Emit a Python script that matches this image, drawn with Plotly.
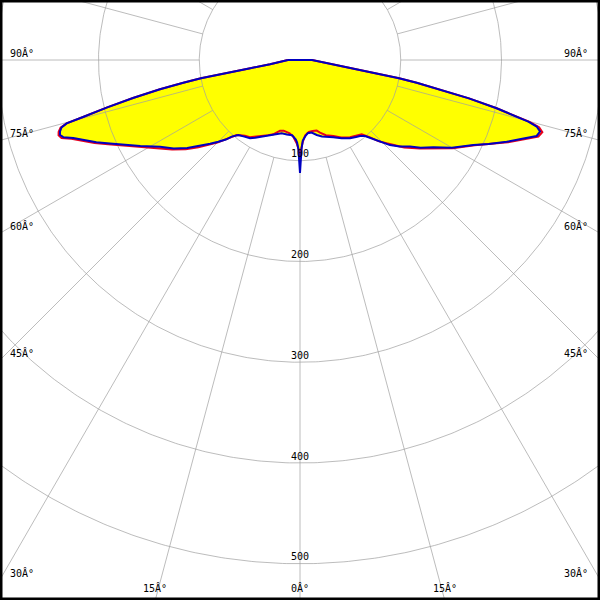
import math
import plotly.graph_objects as go

# ---------------- data (intensity vs angle from nadir, degrees) ----------------
BLUE_LEFT_ANG = [0, 1, 2, 3, 6, 10, 14, 17, 19.6, 24, 27.5, 30, 32.6, 36, 39.4, 41.7, 43, 45, 47, 49.3,
                 52, 55, 58.2, 61.7, 64, 66.3, 68, 69.7, 71, 71.9, 72.7, 73.4, 74.2, 74.8, 75.3, 76.2,
                 77.2, 78.2, 79, 79.6, 80.1, 80.6, 82, 85, 88, 90]
BLUE_LEFT_R = [112, 89, 82, 79, 75, 75, 75, 77, 79, 83, 86, 89, 92.2, 94, 96.4, 101.9, 108, 114.7, 122, 130.9,
               142, 153, 163.4, 180, 192, 206, 218, 229, 238, 247, 249.5, 248.6, 246, 240, 222, 197,
               170, 142, 118, 100, 75, 50, 30, 18, 14, 12]

BLUE_RIGHT_ANG = [0, 1, 2, 3.7, 6, 9.1, 12.6, 16, 20, 23.3, 28, 32.6, 36, 38.3, 40.5, 43.8, 46.6, 49, 51.8, 54,
                  56.8, 60, 63.9, 66, 68.4, 70.5, 72.2, 73.4, 74.3, 74.9, 76.2, 77.2, 78.2, 79, 79.6, 80.1,
                  80.6, 82, 85, 88, 90]
BLUE_RIGHT_R = [112, 88, 80, 76.3, 73, 73, 76.3, 79, 81, 83.5, 88, 92.2, 94.5, 96.1, 99.3, 110, 122.9, 131, 139, 148,
                158.2, 174, 191.6, 205, 220.6, 234, 246.7, 248.6, 244, 234.7, 201, 172, 142, 118, 100, 75,
                50, 30, 18, 14, 12]

RED_LEFT_ANG = [0, 1, 2.3, 5, 8, 10.5, 13, 15.8, 18, 19.8, 23, 27, 30, 32.9, 36, 38.5, 40.2, 42, 45, 49.3,
                52, 55, 58, 61.7, 64, 66.3, 68, 69.7, 71, 71.9, 72.7, 73.4, 74.2, 74.8, 75.3, 76.2,
                77.2, 78.2, 79, 79.6, 80.1, 80.6, 82, 85, 88, 90]
RED_LEFT_R = [97, 88, 82.7, 76.4, 73.5, 72.4, 72, 72.9, 76, 78.4, 81, 85, 88, 91.4, 93, 95.5, 97.4, 103, 116, 133,
              144, 155, 165.5, 182, 194, 208, 220, 231, 240, 249, 251, 250, 247, 240, 222, 197,
              170, 142, 118, 100, 75, 50, 30, 18, 14, 12]

RED_RIGHT_ANG = [0, 1, 2, 4, 7, 10, 13.3, 15.4, 19, 23.7, 28, 32.9, 36, 39.7, 42, 44, 46.1, 50, 53.6, 57,
                 60, 64, 68.4, 70.5, 72.2, 73.4, 74.3, 74.9, 76.2, 77.2, 78.2, 79, 79.6, 80.1, 80.6, 82,
                 85, 88, 90]
RED_RIGHT_R = [97, 87, 81, 75, 72, 71.5, 72, 74.8, 79, 82.4, 87, 91.4, 93.5, 95.9, 103, 112, 119.3, 135, 147.9, 161,
               175, 193, 222, 236, 248.5, 251, 246.5, 236, 201, 172, 142, 118, 100, 75, 50, 30,
               18, 14, 12]

RADII = [100, 200, 300, 400, 500]
RADIAL_LABELS = ["100", "200", "300", "400", "500"]
ANGLE_STEPS = [0, 15, 30, 45, 60, 75, 90]
ANGLE_LABELS = ["0Â°", "15Â°", "30Â°", "45Â°", "60Â°", "75Â°", "90Â°"]

# ---------------- geometry ----------------
K = 1.0075          # pixels per unit
W = H = 600
CX, CY = 300, 60    # pixel position of the pole
XMAX = CX / K
YTOP = CY / K
YBOT = (H - CY) / K


def half(angles, radii, side):
    xs = [side * r * math.sin(math.radians(a)) for a, r in zip(angles, radii)]
    ys = [-r * math.cos(math.radians(a)) for a, r in zip(angles, radii)]
    return xs, ys


def closed_curve(la, lr, ra, rr):
    lx, ly = half(la, lr, -1)
    rx, ry = half(ra, rr, 1)
    xs = lx[::-1] + rx
    ys = ly[::-1] + ry
    xs.append(xs[0])
    ys.append(ys[0])
    return xs, ys


red_x, red_y = closed_curve(RED_LEFT_ANG, RED_LEFT_R, RED_RIGHT_ANG, RED_RIGHT_R)
blue_x, blue_y = closed_curve(BLUE_LEFT_ANG, BLUE_LEFT_R, BLUE_RIGHT_ANG, BLUE_RIGHT_R)

fig = go.Figure()

# yellow fill
for xs, ys in [(red_x, red_y), (blue_x, blue_y)]:
    fig.add_trace(go.Scatter(x=xs, y=ys, mode="lines", fill="toself", fillcolor="#ffff00",
                             line=dict(width=0, color="#ffff00"), hoverinfo="skip", showlegend=False))

GRID = "rgba(160,160,160,0.7)"
# circles
for r in RADII:
    n = 720
    xs = [r * math.cos(2 * math.pi * i / n) for i in range(n + 1)]
    ys = [r * math.sin(2 * math.pi * i / n) for i in range(n + 1)]
    fig.add_trace(go.Scatter(x=xs, y=ys, mode="lines", line=dict(color=GRID, width=1),
                             hoverinfo="skip", showlegend=False))
# radial lines
rx, ry = [], []
for a in range(0, 360, 15):
    s, c = math.sin(math.radians(a)), math.cos(math.radians(a))
    rx += [100 * s, 1000 * s, None]
    ry += [-100 * c, -1000 * c, None]
fig.add_trace(go.Scatter(x=rx, y=ry, mode="lines", line=dict(color=GRID, width=1),
                         hoverinfo="skip", showlegend=False))

# outlines
fig.add_trace(go.Scatter(x=red_x, y=red_y, mode="lines", line=dict(color="#e8001c", width=2),
                         hoverinfo="skip", showlegend=False))
fig.add_trace(go.Scatter(x=blue_x, y=blue_y, mode="lines", line=dict(color="#0000c0", width=2),
                         hoverinfo="skip", showlegend=False))

FONT = dict(family="DejaVu Sans Mono", size=10, color="black")
ann = []
for r, t in zip(RADII, RADIAL_LABELS):
    ann.append(dict(x=0, y=-r, xref="x", yref="y", text=t, showarrow=False, font=FONT,
                    xanchor="center", yanchor="middle", yshift=7))

for a, t in zip(ANGLE_STEPS, ANGLE_LABELS):
    sides = [1] if a == 0 else [-1, 1]
    for side in sides:
        s, c = math.sin(math.radians(a)), math.cos(math.radians(a))
        t_side = XMAX / s if s > 1e-9 else float("inf")
        t_bot = YBOT / c if c > 1e-9 else float("inf")
        if t_side < t_bot:
            yv = -t_side * c
            if side < 0:
                ann.append(dict(x=0, y=yv, xref="paper", yref="y", text=t, showarrow=False, font=FONT,
                                xanchor="left", yanchor="middle", xshift=8, yshift=7))
            else:
                ann.append(dict(x=1, y=yv, xref="paper", yref="y", text=t, showarrow=False, font=FONT,
                                xanchor="right", yanchor="middle", xshift=-10, yshift=7))
        else:
            xv = side * t_bot * s
            ann.append(dict(x=xv, y=0, xref="x", yref="paper", text=t, showarrow=False, font=FONT,
                            xanchor="center", yanchor="bottom", yshift=4))

fig.update_layout(
    width=W, height=H,
    margin=dict(l=0, r=0, t=0, b=0),
    paper_bgcolor="white", plot_bgcolor="white",
    xaxis=dict(range=[-XMAX, XMAX], visible=False, fixedrange=True),
    yaxis=dict(range=[-YBOT, YTOP], visible=False, fixedrange=True),
    annotations=ann,
    shapes=[dict(type="rect", xref="paper", yref="paper", x0=0, y0=0, x1=1, y1=1,
                 line=dict(color="black", width=5), layer="above")],
    showlegend=False,
)

fig.write_html(
    "out.html",
    config={"displayModeBar": False},
    post_script="document.body.style.margin='0';document.body.style.padding='0';"
                "document.body.style.overflow='hidden';",
)
